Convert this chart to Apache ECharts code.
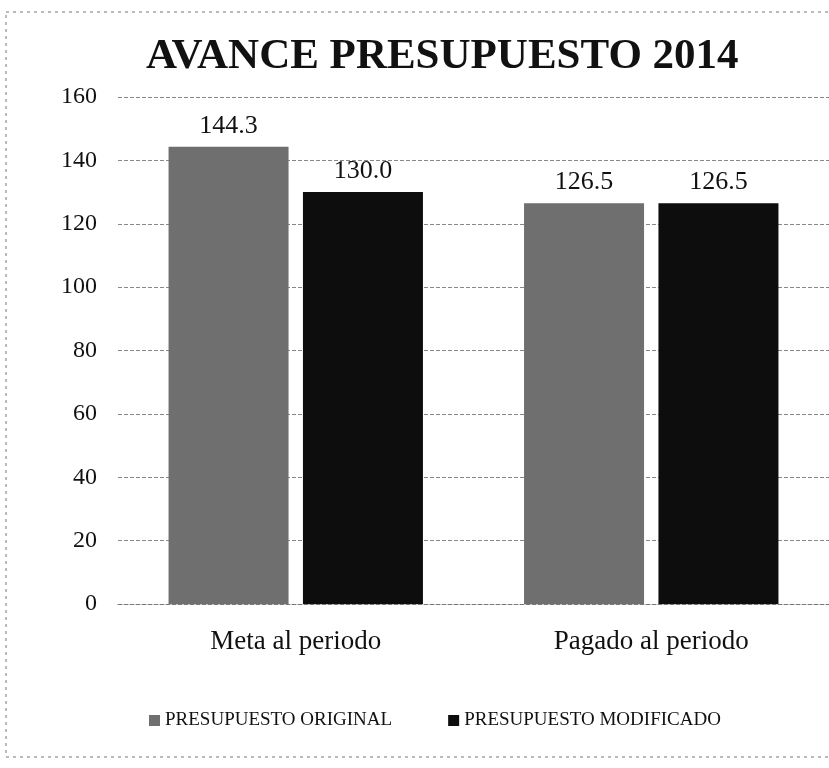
<!DOCTYPE html>
<html>
<head>
<meta charset="utf-8">
<script src="https://cdn.jsdelivr.net/npm/echarts@6/dist/echarts.min.js"></script>
<style>
  html, body { margin: 0; padding: 0; background: #fff; }
  #main { width: 829px; height: 768px; }
</style>
</head>
<body>
<div id="main"></div>
<script>
  // datos
  var categorias = ['Meta al periodo', 'Pagado al periodo'];
  var original = [144.3, 126.5];
  var modificado = [130.0, 126.5];
  var serieNombres = ['PRESUPUESTO ORIGINAL', 'PRESUPUESTO MODIFICADO'];

  var fuente = '"Liberation Serif", "DejaVu Serif", serif';
  var myChart = echarts.init(document.getElementById('main'));

  var etiqueta = {
    show: true, position: 'top', distance: 8,
    fontFamily: fuente, fontSize: 26, color: '#111',
    formatter: function (p) { return p.value.toFixed(1); }
  };

  var option = {
    backgroundColor: '#fff',
    textStyle: { fontFamily: fuente },
    title: {
      text: 'AVANCE PRESUPUESTO 2014',
      left: 141,
      top: 30,
      textStyle: { fontFamily: fuente, fontSize: 43, fontWeight: 'bold', color: '#111' }
    },
    legend: {
      top: 706,
      left: 144,
      itemWidth: 11,
      itemHeight: 11,
      itemGap: 56,
      icon: 'rect',
      textStyle: { fontFamily: fuente, fontSize: 19, color: '#111' },
      data: serieNombres
    },
    // margenes del area de trazado
    grid: {
      left: 118,
      right: 0,
      top: 97,
      bottom: 164,
      containLabel: false
    },
    xAxis: {
      type: 'category',
      data: categorias,
      axisTick: { show: false },
      axisLine: { lineStyle: { color: '#777', type: 'dashed', width: 1 } },
      axisLabel: { margin: 24, fontFamily: fuente, fontSize: 27, color: '#111' }
    },
    yAxis: {
      type: 'value',
      min: 0,
      max: 160,
      interval: 20,
      axisLine: { show: false },
      axisTick: { show: false },
      axisLabel: { margin: 21, fontFamily: fuente, fontSize: 24, color: '#111' },
      splitLine: { lineStyle: { color: '#888', type: 'dashed', width: 1 } }
    },
    series: [
      {
        name: serieNombres[0],
        type: 'bar',
        barWidth: 120,
        barGap: '12%',
        itemStyle: { color: '#6f6f6f' },
        label: etiqueta,
        data: original
      },
      {
        name: serieNombres[1],
        type: 'bar',
        barWidth: 120,
        itemStyle: { color: '#0d0d0d' },
        label: etiqueta,
        data: modificado
      }
    ],
    // borde punteado del recuadro
    graphic: [{
      type: 'rect',
      shape: { x: 6, y: 12, width: 840, height: 745 },
      style: { fill: null, stroke: '#777', lineDash: [3, 4], lineWidth: 1 },
      silent: true
    }]
  };

  myChart.setOption(option);
</script>
</body>
</html>
